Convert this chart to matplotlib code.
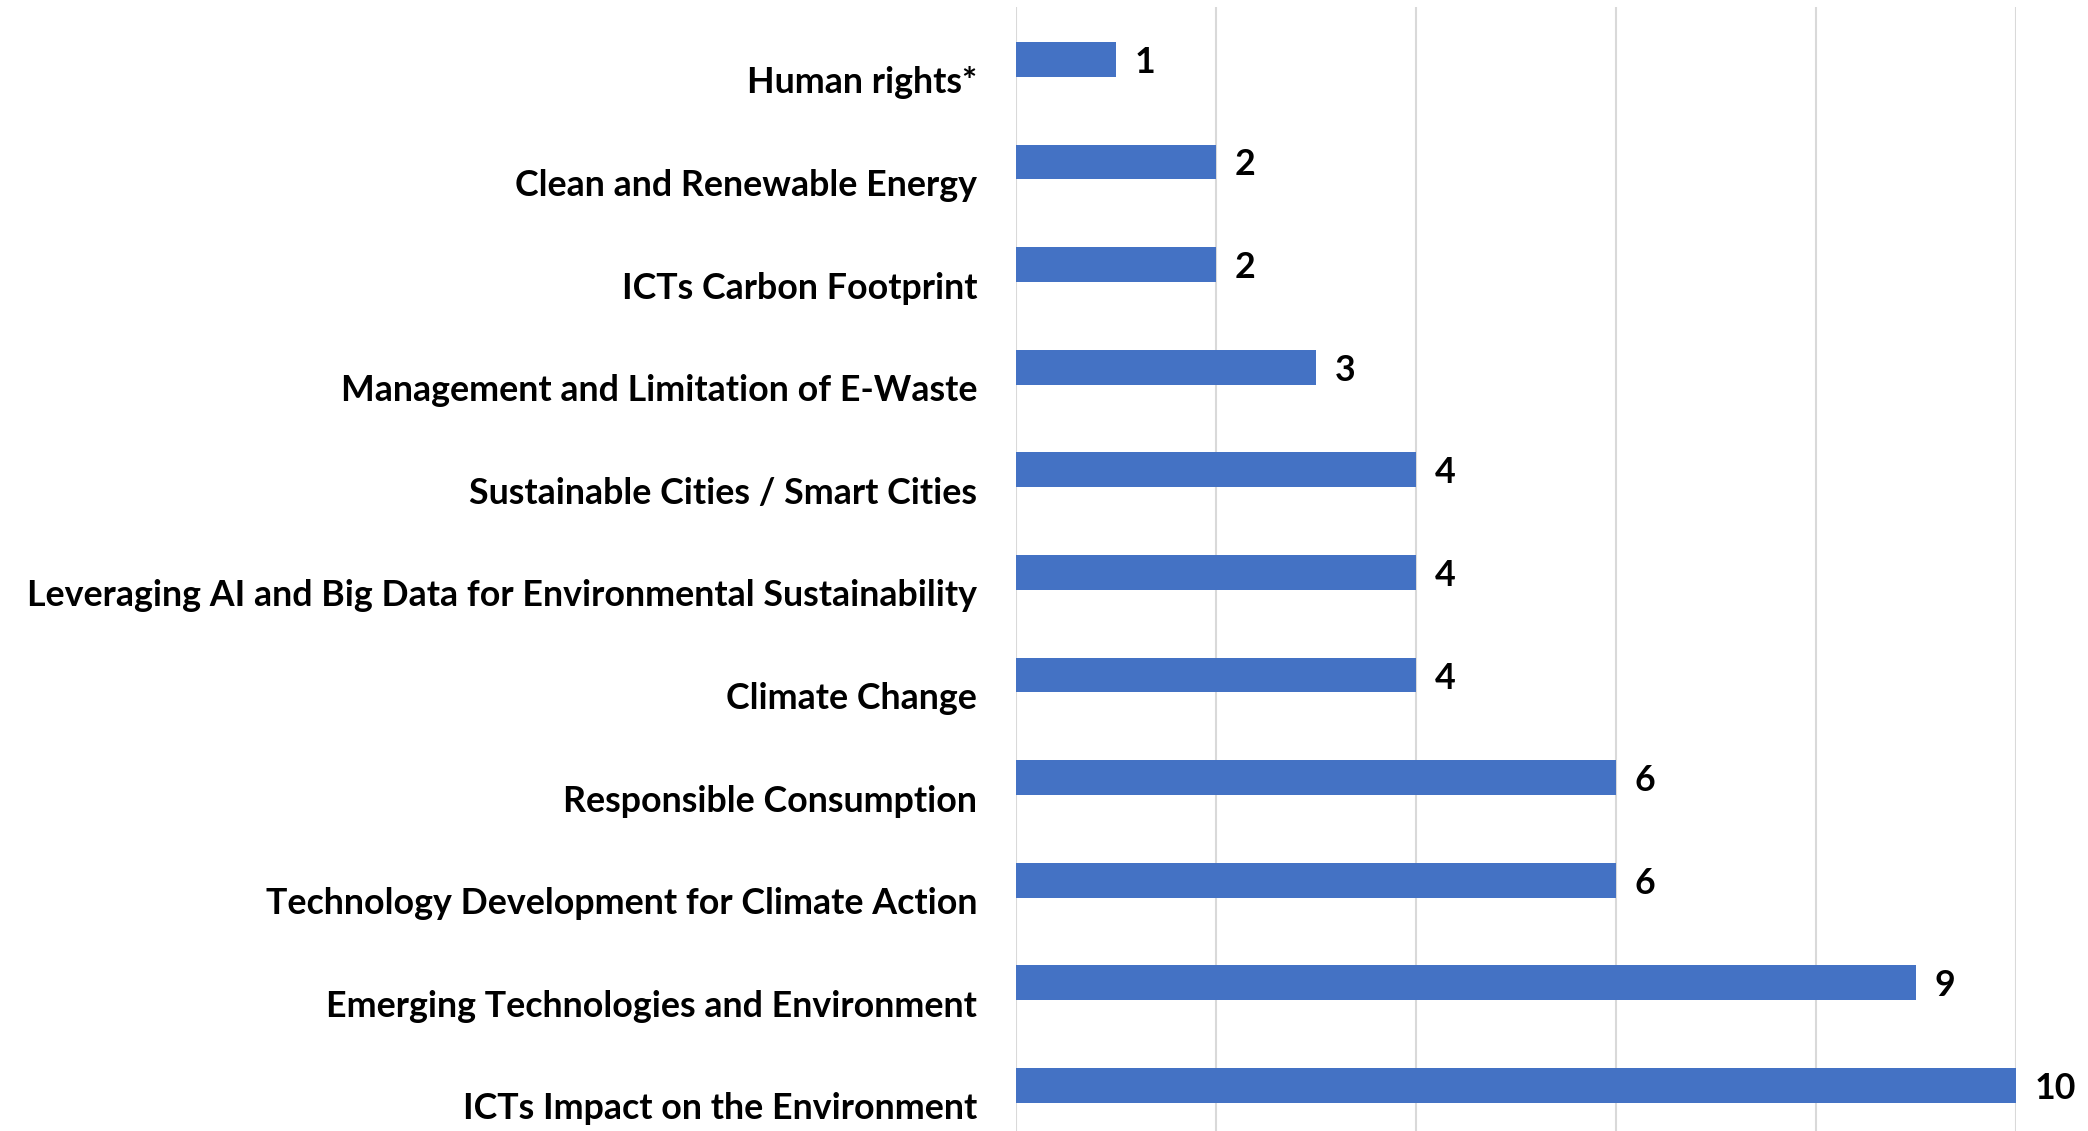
import matplotlib
matplotlib.use("Agg")
import matplotlib.pyplot as plt

topics = [
    "Human rights*",
    "Clean and Renewable Energy",
    "ICTs Carbon Footprint",
    "Management and Limitation of E-Waste",
    "Sustainable Cities / Smart Cities",
    "Leveraging AI and Big Data for Environmental Sustainability",
    "Climate Change",
    "Responsible Consumption",
    "Technology Development for Climate Action",
    "Emerging Technologies and Environment",
    "ICTs Impact on the Environment",
]
counts = [1, 2, 2, 3, 4, 4, 4, 6, 6, 9, 10]
grid_ticks = [0, 2, 4, 6, 8, 10]

plt.rcParams["font.family"] = ["Lato", "DejaVu Sans"]

bar_color = "#4472C4"

fig = plt.figure(figsize=(20.88, 11.31), dpi=100)
ax = fig.add_axes([0.4866, 0.0, 0.9655 - 0.4866, 0.9938])

# shrink the font so the longest label fits left of the axis (~950 px)
fs = 30
renderer = fig.canvas.get_renderer()
longest = max(topics, key=len)
t = fig.text(0, 0, longest, fontsize=fs, fontweight="bold")
w = t.get_window_extent(renderer).width
t.remove()
fs = min(fs, fs * 950 / w)

pos = list(range(len(topics)))
bar_pos = [p - 0.2 for p in pos]
ax.barh(bar_pos, counts, height=0.34, color=bar_color, zorder=3)

for y, v in zip(bar_pos, counts):
    ax.text(v + 0.19, y, str(v), va="center_baseline", ha="left",
            fontsize=fs, fontweight="bold", color="black")

ax.set_yticks(pos)
ax.set_yticklabels(topics, fontsize=fs, fontweight="bold")
ax.tick_params(axis="y", length=0, pad=28)
ax.set_xticks(grid_ticks)
ax.tick_params(axis="x", length=0, labelbottom=False)
ax.grid(axis="x", color="#d9d9d9", linewidth=1.5, zorder=0)
ax.set_xlim(0, 10)
ax.set_ylim(10.244, -0.71)
for s in ax.spines.values():
    s.set_visible(False)

fig.savefig("out.png", dpi=100)
